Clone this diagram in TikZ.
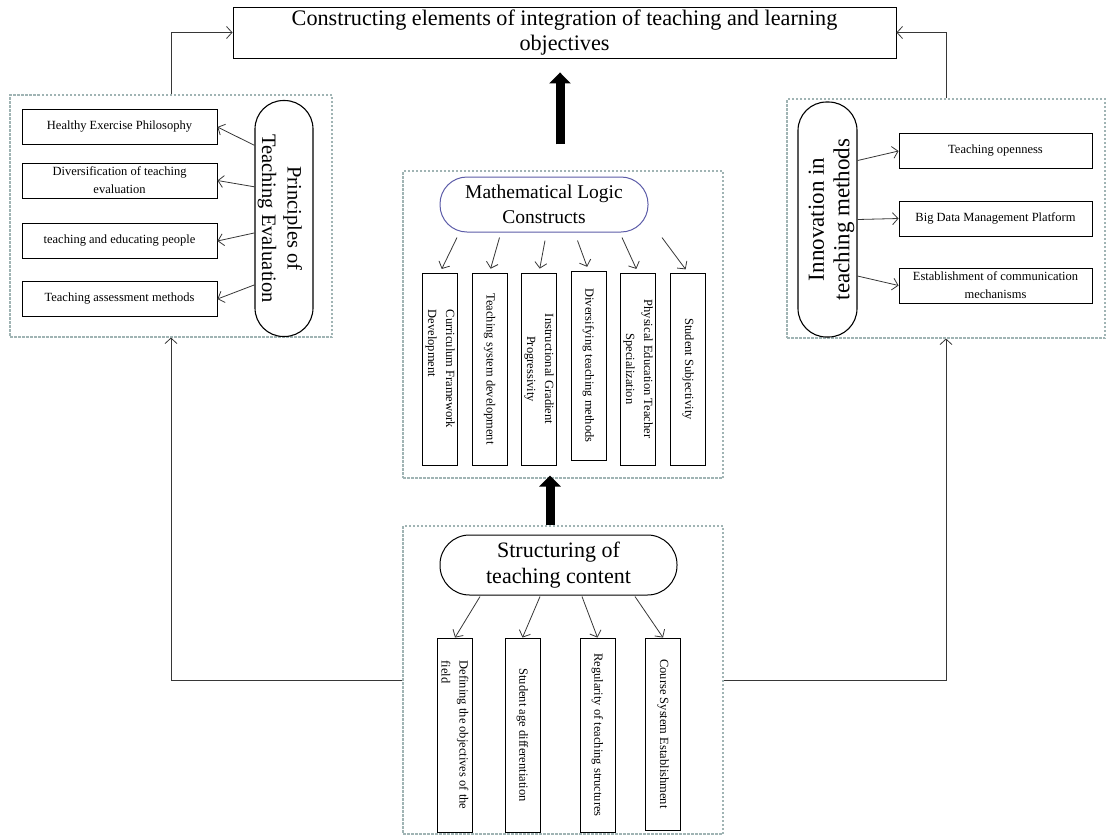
\documentclass[tikz,border=0pt]{standalone}
\usepackage{fontspec}
\setmainfont{Liberation Serif}
\usetikzlibrary{arrows.meta,calc}
\definecolor{panelGray}{RGB}{160,180,180}
\definecolor{logicBlue}{RGB}{92,92,168}
\definecolor{lineGray}{RGB}{55,55,55}
\newcommand{\leafFont}{\fontsize{12.5}{18}\selectfont}
\newcommand{\ovalFont}[1]{\fontsize{#1}{25.5}\selectfont}

\begin{document}
\begin{tikzpicture}[
  x=1pt,y=-1pt,
  every node/.style={font=\leafFont,inner sep=2pt},
  panel/.style={draw=panelGray,line width=1.1pt,dash pattern=on 2.5pt off 1.5pt},
  leaf/.style={draw,line width=0.9pt,minimum width=195pt,minimum height=35pt,align=center},
  vleaf/.style={draw,line width=0.9pt,rotate=-90,minimum width=192pt,minimum height=35pt,align=center},
  vOval/.style={draw,line width=1.1pt,minimum width=58pt,minimum height=236pt,rounded corners=28.5pt,inner sep=0pt},
  hOval/.style={draw,line width=1pt,align=center,inner sep=0pt},
  arr/.style={draw=lineGray,line width=0.8pt,-{Straight Barb[length=5.5pt,width=12pt]}},
  bigArrow/.style={line width=9pt,-{Triangle[length=11pt,width=21pt]}}
]
  \useasboundingbox (0,0) rectangle (1108,836);

  % dashed panels
  \node[panel,minimum width=322pt,minimum height=242pt] (evalPanel) at (171,216) {};
  \node[panel,minimum width=318pt,minimum height=239pt] (methodPanel) at (946,218.5) {};
  \node[panel,minimum width=320pt,minimum height=307pt] (logicPanel) at (563,324.5) {};
  \node[panel,minimum width=320pt,minimum height=308pt] (contentPanel) at (563,680) {};

  % goal
  \node[draw,line width=0.9pt,minimum width=663pt,minimum height=51pt,align=center,
    font=\fontsize{22.2}{25}\selectfont] (goal) at (564.5,32.5)
    {Constructing elements of integration of teaching and learning\\objectives};

  % principles of teaching evaluation
  \node[vOval] (evalOval) at (284,218.5) {};
  \node[rotate=-90,align=center,font=\ovalFont{20.5}] at ($(evalOval)+(-4,0)$) {Principles of\\Teaching Evaluation};
  \node[leaf] (e1) at (119.5,127) {Healthy Exercise Philosophy};
  \node[leaf] (e2) at (119.5,180.5) {Diversification of teaching\\evaluation};
  \node[leaf] (e3) at (119.5,241) {teaching and educating people};
  \node[leaf] (e4) at (119.5,299) {Teaching assessment methods};
  \foreach \b/\a in {e1/112.4,e2/133.6,e3/206.6,e4/246.7}
    \draw[arr] (evalOval.\a) -- (\b.east);

  % innovation in teaching methods
  \node[vOval,minimum width=59pt,minimum height=235pt] (methodOval) at (827.5,219.5) {};
  \node[rotate=90,align=center,font=\ovalFont{23}] at ($(methodOval)+(4,0)$) {Innovation in\\teaching methods};
  \node[leaf,minimum width=193pt] (r1) at (995.5,151) {Teaching openness};
  \node[leaf,minimum width=193pt] (r2) at (995.5,218.5) {Big Data Management Platform};
  \node[leaf,minimum width=193pt] (r3) at (995.5,285.5) {Establishment of communication\\mechanisms};
  \foreach \b/\a in {r1/63,r2/0,r3/-62}
    \draw[arr] (methodOval.\a) -- (\b.west);

  % mathematical logic constructs
  \node[hOval,draw=logicBlue,minimum width=208pt,minimum height=55pt,rounded corners=27pt,
    font=\ovalFont{19.5}] (logicOval) at (544,204.5) {Mathematical Logic\\Constructs};
  \node[vleaf,align=left] (m1) at (440,369) {Curriculum Framework\\Development};
  \node[vleaf] (m2) at (489.5,369) {Teaching system development};
  \node[vleaf] (m3) at (539,369) {Instructional Gradient\\Progressivity};
  \node[vleaf,minimum width=189pt] (m4) at (588.5,365.5) {Diversifying teaching methods};
  \node[vleaf] (m5) at (638,369) {Physical Education Teacher\\Specialization};
  \node[vleaf] (m6) at (688,369) {Student Subjectivity};
  \foreach \b/\dx/\dy in {m1/17/-35,m2/10/-35,m3/6/-32,m4/-11/-30,m5/-16/-35,m6/-26/-35}
    \draw[arr,shorten >=4pt] ($(\b.west)+(\dx,\dy)$) -- (\b.west);

  % structuring of teaching content
  \node[hOval,minimum width=237pt,minimum height=60pt,rounded corners=29.5pt,
    font=\ovalFont{22}] (contentOval) at (558.5,565) {Structuring of\\teaching content};
  \node[vleaf,minimum width=194pt,align=left] (c1) at (455,735) {Defining the objectives of the\\field};
  \node[vleaf,minimum width=194pt] (c2) at (522.5,735) {Student age differentiation};
  \node[vleaf,minimum width=194pt] (c3) at (597.5,735) {Regularity of teaching structures};
  \node[vleaf,minimum width=192pt] (c4) at (663,734) {Course System Establishment};
  \foreach \b/\dx in {c1/25,c2/17.5,c3/-15.5,c4/-28}
    \draw[arr] ($(\b.west)+(\dx,-41)$) -- (\b.west);

  % upward flow
  \draw[bigArrow,shorten <=26pt,shorten >=14pt] ($(logicPanel.north)+(-3,0)$) -- ($(goal.south)+(-4.5,0)$);
  \draw[bigArrow] ($(contentPanel.north)+(-13,0)$) -- ($(logicPanel.south)+(-13,-3)$);

  % side loops
  \draw[arr] (evalPanel.north) |- (goal.west);
  \draw[arr] (methodPanel.north) |- (goal.east);
  \draw[arr] (contentPanel.west) -| (evalPanel.south);
  \draw[arr] (contentPanel.east) -| (methodPanel.south);
\end{tikzpicture}
\end{document}
